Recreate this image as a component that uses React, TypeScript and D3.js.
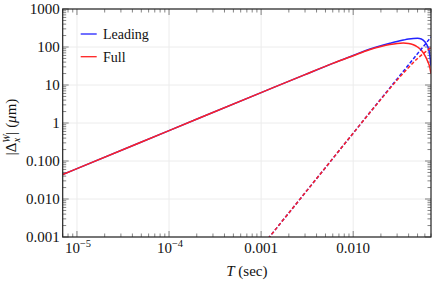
import * as d3 from 'd3';

const W = 436;
const H = 283;
const margin = { left: 62.7, right: 5, top: 9, bottom: 46 };

// time axis (sec)
const tDomain: [number, number] = [7e-6, 0.07];
const yDomain: [number, number] = [0.001, 1000];

const yTicks = [0.001, 0.01, 0.1, 1, 10, 100, 1000];
const yTickLabels = ['0.001', '0.010', '0.100', '1', '10', '100', '1000'];
const xTicks = [1e-5, 1e-4, 1e-3, 1e-2];

// solid curves
const tSolid = [7e-6, 1e-5, 1e-4, 1e-3, 0.003, 0.006, 0.01, 0.015, 0.02, 0.025, 0.03, 0.035, 0.04, 0.045, 0.05, 0.055, 0.06, 0.065, 0.0675, 0.07];
const leadingSolid = [0.044, 0.063, 0.63, 6.3, 18.8, 37, 60, 87, 108, 125, 140, 152, 162, 168, 170, 163, 138, 98, 68, 32];
const fullSolid = [0.044, 0.063, 0.63, 6.3, 18.8, 37, 59, 85, 103, 116, 124, 127, 124, 115, 100, 82, 60, 40, 31, 20];

// dashed curves
const tDashed = [0.001, 0.00123, 0.002, 0.005, 0.01, 0.02, 0.03, 0.04, 0.05, 0.06, 0.07];
const leadingDashed = [0.00054, 0.001, 0.0043, 0.067, 0.54, 4.3, 14.5, 34, 67, 115, 183];
const fullDashed = [0.00054, 0.001, 0.0043, 0.067, 0.54, 4.2, 13.5, 29, 50, 72, 98];

const BLUE = '#2222ff';
const RED = '#ff2222';
const serif = { fontFamily: '"Liberation Serif"' };

export default function App() {
  const x = d3.scaleLog().domain(tDomain).range([margin.left, W - margin.right]);
  const y = d3.scaleLog().domain(yDomain).range([H - margin.bottom, margin.top]);
  const x0 = x.range()[0];
  const x1 = x.range()[1];
  const y0 = y.range()[0];
  const y1 = y.range()[1];

  const line = (ts: number[], vs: number[]) =>
    d3
      .line<number>()
      .x((_, i) => x(ts[i]))
      .y((v) => y(v))
      .curve(d3.curveMonotoneX)(vs) ?? '';

  // minor ticks
  const xMinor: number[] = [];
  for (let e = -6; e <= -2; e++) {
    for (let m = 2; m <= 9; m++) {
      const v = m * Math.pow(10, e);
      if (v >= tDomain[0] && v <= tDomain[1]) xMinor.push(v);
    }
  }
  const yMinor: number[] = [];
  for (let e = -3; e <= 2; e++) {
    for (let m = 2; m <= 9; m++) yMinor.push(m * Math.pow(10, e));
  }

  const xLabel = (v: number) => {
    if (v >= 1e-3) return <tspan>{v === 1e-3 ? '0.001' : '0.010'}</tspan>;
    const exp = Math.round(Math.log10(v));
    return (
      <>
        <tspan>10</tspan>
        <tspan fontSize={10.5} dy={-6}>{'\u2212' + Math.abs(exp)}</tspan>
      </>
    );
  };

  return (
    <svg width={W} height={H} style={{ position: 'absolute', left: 0, top: 0, display: 'block', background: '#fff' }}>
      <defs>
        <clipPath id="plot">
          <rect x={x0} y={y1} width={x1 - x0} height={y0 - y1} />
        </clipPath>
      </defs>

      {/* grid */}
      <g stroke="#ececec" strokeWidth={1}>
        {xTicks.map((t) => (
          <line key={t} x1={x(t)} x2={x(t)} y1={y1} y2={y0} />
        ))}
        {yTicks.map((t) => (
          <line key={t} x1={x0} x2={x1} y1={y(t)} y2={y(t)} />
        ))}
      </g>

      {/* ticks */}
      <g stroke="#666" strokeWidth={0.8}>
        {xTicks.map((t) => (
          <g key={t}>
            <line x1={x(t)} x2={x(t)} y1={y0} y2={y0 - 6} />
            <line x1={x(t)} x2={x(t)} y1={y1} y2={y1 + 6} />
          </g>
        ))}
        {xMinor.map((t) => (
          <g key={t}>
            <line x1={x(t)} x2={x(t)} y1={y0} y2={y0 - 3.5} />
            <line x1={x(t)} x2={x(t)} y1={y1} y2={y1 + 3.5} />
          </g>
        ))}
        {yTicks.map((t) => (
          <g key={t}>
            <line x1={x0} x2={x0 + 6} y1={y(t)} y2={y(t)} />
            <line x1={x1} x2={x1 - 6} y1={y(t)} y2={y(t)} />
          </g>
        ))}
        {yMinor.map((t) => (
          <g key={t}>
            <line x1={x0} x2={x0 + 3.5} y1={y(t)} y2={y(t)} />
            <line x1={x1} x2={x1 - 3.5} y1={y(t)} y2={y(t)} />
          </g>
        ))}
      </g>

      {/* curves */}
      <g clipPath="url(#plot)" fill="none" strokeWidth={1.5}>
        <path d={line(tSolid, leadingSolid)} stroke={BLUE} />
        <path d={line(tSolid, fullSolid)} stroke={RED} />
        <path d={line(tDashed, leadingDashed)} stroke={BLUE} strokeDasharray="3.5,2" />
        <path d={line(tDashed, fullDashed)} stroke={RED} strokeDasharray="3.5,2" />
      </g>

      {/* frame */}
      <rect x={x0} y={y1} width={x1 - x0} height={y0 - y1} fill="none" stroke="#222" strokeWidth={1.2} />

      {/* y tick labels */}
      <g fontSize={15} textAnchor="end" fill="#111">
        {yTicks.map((t, i) => (
          <text key={t} x={x0 - 3} y={y(t)} dy="0.35em" style={serif}>
            {yTickLabels[i]}
          </text>
        ))}
      </g>

      {/* x tick labels */}
      <g fontSize={15} textAnchor="middle" fill="#111">
        {xTicks.map((t) => (
          <text key={t} x={x(t) + (t < 1e-3 ? 1 : 0)} y={y0 + 16} style={serif}>
            {xLabel(t)}
          </text>
        ))}
      </g>

      {/* axis titles */}
      <text x={(x0 + x1) / 2} y={276} fontSize={15} textAnchor="middle" fill="#111" style={serif}>
        <tspan fontStyle="italic">T</tspan>
        <tspan> (sec)</tspan>
      </text>
      <text
        transform={`translate(16,${(y0 + y1) / 2 + 4}) rotate(-90)`}
        fontSize={15}
        textAnchor="middle"
        fill="#111"
        style={serif}
      >
        <tspan>|Δ</tspan>
        <tspan fontSize={10} fontStyle="italic" dy={-6}>W</tspan>
        <tspan fontSize={10} fontStyle="italic" dx={-8} dy={10}>x</tspan>
        <tspan dy={-4} dx={3}>|</tspan>
        <tspan dx={4}>(</tspan>
        <tspan fontStyle="italic">μ</tspan>
        <tspan>m)</tspan>
      </text>

      {/* legend */}
      <g fontSize={14} fill="#111">
        <line x1={80.7} x2={96.7} y1={34} y2={34} stroke={BLUE} strokeWidth={1.3} />
        <text x={103} y={34} dy="0.35em" style={serif}>Leading</text>
        <line x1={80.7} x2={96.7} y1={56.7} y2={56.7} stroke={RED} strokeWidth={1.3} />
        <text x={103} y={56.7} dy="0.35em" style={serif}>Full</text>
      </g>
    </svg>
  );
}
